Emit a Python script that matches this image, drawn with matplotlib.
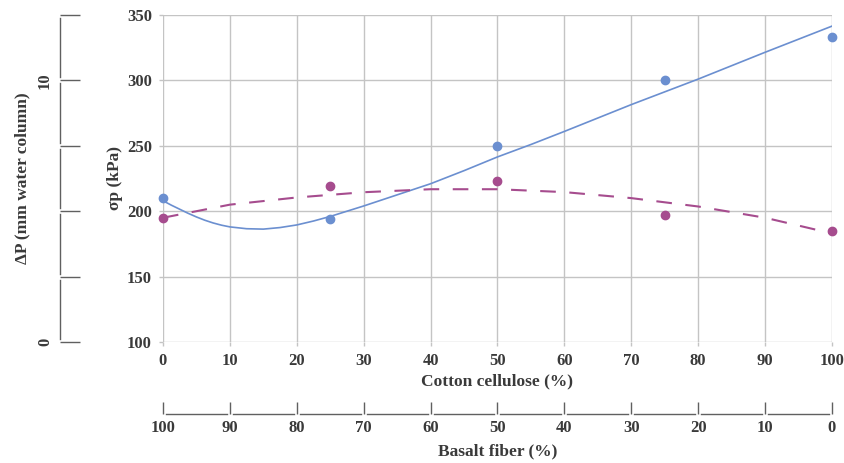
import numpy as np
import matplotlib.pyplot as plt

# data
cotton = [0, 25, 50, 75, 100]
sigma_blue = [210, 194, 250, 300, 333]
sigma_purple = [195, 219, 223, 197, 185]

# trend curves as drawn in the reference
trend_blue_x = [0, 1.25, 2.5, 3.75, 5, 6.25, 7.5, 8.75, 10, 12.5, 15, 17.5, 20, 22.5,
                25, 30, 35, 40, 45, 50, 55, 60, 70, 80, 90, 100]
trend_blue_y = [208, 204.6, 201.5, 198.4, 195.6, 193.1, 191, 189.3, 188, 186.6, 186.3,
                187.5, 189.5, 192.5, 196, 204, 212.5, 221, 231, 241.5, 251, 261, 281.5,
                301, 321.5, 341.5]
trend_purple_x = [0, 10, 20, 30, 40, 50, 60, 70, 80, 90, 100]
trend_purple_y = [195, 205, 210.5, 214.5, 216.8, 216.8, 214.6, 210, 203.6, 195, 183]

cotton_ticks = list(range(0, 101, 10))
basalt_ticks = list(range(100, -1, -10))
sigma_ticks = [100, 150, 200, 250, 300, 350]
dp_ticks = [0, 2.5, 5, 7.5, 10, 12.5]
dp_labels = ["0", "", "", "", "10", ""]

plt.rcParams['font.family'] = ['Liberation Serif', 'DejaVu Serif']
plt.rcParams['font.weight'] = 'bold'
plt.rcParams['axes.labelweight'] = 'bold'

BLUE = '#6b8fd0'
PURPLE = '#a64c8e'
TXT = '#3a3a3a'
GRID = '#c4c4c4'
AXC = '#606060'

fig = plt.figure(figsize=(8.45, 4.63), dpi=100)
W, H = 845, 463

# main axes
ax = fig.add_axes([163 / W, 1 - 342 / H, (832 - 163) / W, (342 - 15) / H])
ax.set_xlim(0, 100)
ax.set_ylim(100, 350)
ax.set_xticks(cotton_ticks)
ax.set_yticks(sigma_ticks)
ax.grid(True, color=GRID, linewidth=1)
for s in ax.spines.values():
    s.set_visible(False)
ax.tick_params(colors=GRID, labelcolor=TXT, labelsize=12, length=3, width=1, pad=5)

ax.plot(trend_blue_x, trend_blue_y, color=BLUE, lw=1.2, zorder=3)
ax.plot(trend_purple_x, trend_purple_y, color=PURPLE, lw=1.5, dashes=(7.5, 6.5), zorder=3)
ax.plot(cotton, sigma_blue, 'o', color=BLUE, ms=6, zorder=4, clip_on=False)
ax.plot(cotton, sigma_purple, 'o', color=PURPLE, ms=6, zorder=4, clip_on=False)

ax.set_xlabel("Cotton cellulose (%)", fontsize=12.5, color=TXT, labelpad=3)
ax.set_ylabel("σp (kPa)", fontsize=12.5, color=TXT, labelpad=3)

# delta P axis on the far left
ax2 = fig.add_axes([60 / W, 1 - 342 / H, 0.0001, (342 - 15) / H])
ax2.set_ylim(0, 12.5)
ax2.set_yticks(dp_ticks)
ax2.set_yticklabels(dp_labels, rotation=90, va='center')
ax2.set_xticks([])
for s in ax2.spines.values():
    s.set_visible(False)
ax2.tick_params(axis='y', direction='in', length=14.5, width=1, colors=AXC,
                labelcolor=TXT, labelsize=12, pad=5)
ax2.set_ylabel("ΔP (mm water column)", fontsize=12.5, color=TXT, labelpad=5)
gap = 3 / (327 / 12.5)
for a, b in zip(dp_ticks[:-1], dp_ticks[1:]):
    ax2.plot([0, 0], [a + gap, b - gap], color=AXC, lw=1,
             transform=ax2.get_yaxis_transform(), clip_on=False)

# basalt fibre axis at the bottom
ax3 = fig.add_axes([163 / W, 1 - 414 / H, (832 - 163) / W, 0.0001])
ax3.set_xlim(100, 0)
ax3.set_xticks(basalt_ticks)
ax3.set_yticks([])
for s in ax3.spines.values():
    s.set_visible(False)
ax3.tick_params(axis='x', direction='in', length=9, width=1, colors=AXC,
                labelcolor=TXT, labelsize=12, pad=4)
ax3.set_xlabel("Basalt fiber (%)", fontsize=12.5, color=TXT, labelpad=6)
gap = 3 / ((832 - 163) / 100)
for a, b in zip(basalt_ticks[:-1], basalt_ticks[1:]):
    ax3.plot([a - gap, b + gap], [0, 0], color=AXC, lw=1,
             transform=ax3.get_xaxis_transform(), clip_on=False)

fig.savefig("out.png", dpi=100)
